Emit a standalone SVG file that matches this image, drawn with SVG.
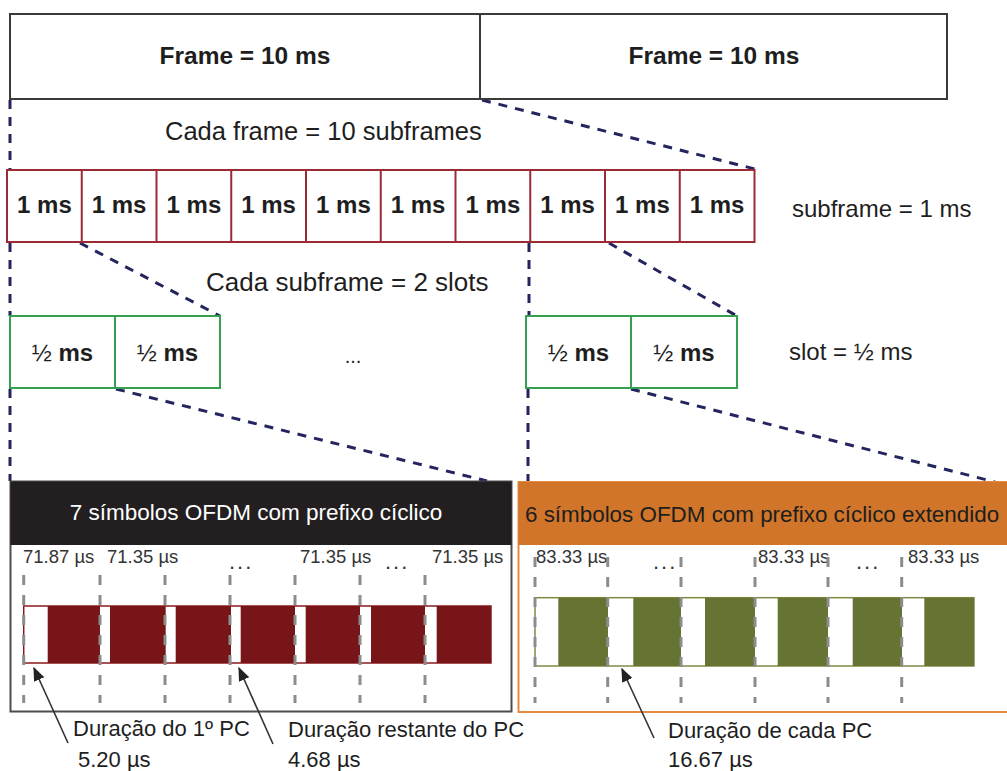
<svg xmlns="http://www.w3.org/2000/svg" width="1007" height="771" viewBox="0 0 1007 771">
<defs>
<style>
.t{font-family:"Liberation Sans",Arial,sans-serif;fill:#1e1e1e}
.b{font-weight:bold}
.frame{fill:#fff;stroke:#3a3a3a;stroke-width:2}
.sub{fill:#fff;stroke:#9b2a35;stroke-width:2}
.slot{fill:#fff;stroke:#35a052;stroke-width:2}
.conn{fill:none;stroke:#24245e;stroke-width:3;stroke-dasharray:9 8}
.grid{fill:none;stroke:#8c8c8c;stroke-width:3;stroke-dasharray:10 10}
.red{fill:#771518}
.grn{fill:#667433}
.dur{font-size:18.5px;fill:#333}
.dots{font-size:22px;fill:#333}
.lbl{font-size:22px}
</style>
<marker id="ah2" viewBox="0 0 10 10" refX="9" refY="5" markerWidth="14" markerHeight="14" markerUnits="userSpaceOnUse" orient="auto">
<path d="M0,1 L10,5 L0,9 z" fill="#222"/>
</marker>
</defs>
<rect width="1007" height="771" fill="#fff"/>

<g id="connectors">
<path class="conn" d="M10,100 V170"/>
<path class="conn" d="M482,100 L755,169"/>
<path class="conn" d="M10,243 V316"/>
<path class="conn" d="M80,243 L220,316"/>
<path class="conn" d="M529,243 V316"/>
<path class="conn" d="M609,243 L737,316"/>
<path class="conn" d="M10,389 V481"/>
<path class="conn" d="M116,389 L487,481"/>
<path class="conn" d="M528,389 V482"/>
<path class="conn" d="M631,389 L995,482"/>
</g>

<g id="frame1"><rect class="frame" x="10" y="14" width="470" height="85"/><text class="t b" x="245" y="64" font-size="24.5" text-anchor="middle">Frame = 10 ms</text></g>
<g id="frame2"><rect class="frame" x="480" y="14" width="467" height="85"/><text class="t b" x="714" y="64" font-size="24.5" text-anchor="middle">Frame = 10 ms</text></g>
<text class="t" x="165" y="140" font-size="25.5">Cada frame = 10 subframes</text>

<g id="subframes">
<rect class="sub" x="7" y="170" width="747.5" height="72"/>
<path class="sub" d="M81.75,170V242M156.5,170V242M231.25,170V242M306,170V242M380.75,170V242M455.5,170V242M530.25,170V242M605,170V242M679.75,170V242"/>
<g class="t b" font-size="24" text-anchor="middle">
<text x="44.4" y="213">1 ms</text><text x="119.1" y="213">1 ms</text><text x="193.9" y="213">1 ms</text><text x="268.6" y="213">1 ms</text><text x="343.4" y="213">1 ms</text><text x="418.1" y="213">1 ms</text><text x="492.9" y="213">1 ms</text><text x="567.6" y="213">1 ms</text><text x="642.4" y="213">1 ms</text><text x="717.1" y="213">1 ms</text>
</g>
</g>
<text class="t" x="792" y="217" font-size="24">subframe = 1 ms</text>
<text class="t" x="206" y="291" font-size="26">Cada subframe = 2 slots</text>

<g id="slots-left">
<rect class="slot" x="10" y="316" width="210" height="72"/>
<path class="slot" d="M115,316V388"/>
<text class="t" x="62.5" y="361" font-size="24" text-anchor="middle">½ <tspan class="b">ms</tspan></text>
<text class="t" x="167.5" y="361" font-size="24" text-anchor="middle">½ <tspan class="b">ms</tspan></text>
</g>
<text class="t" x="353" y="363" font-size="20" text-anchor="middle">...</text>
<g id="slots-right">
<rect class="slot" x="526" y="316" width="211" height="72"/>
<path class="slot" d="M631,316V388"/>
<text class="t" x="578.5" y="361" font-size="24" text-anchor="middle">½ <tspan class="b">ms</tspan></text>
<text class="t" x="684" y="361" font-size="24" text-anchor="middle">½ <tspan class="b">ms</tspan></text>
</g>
<text class="t" x="789" y="360" font-size="24">slot = ½ ms</text>

<g id="panel-normal">
<rect x="10.5" y="481.5" width="501" height="230" fill="#fff" stroke="#4d4d4d" stroke-width="2"/>
<rect x="10.5" y="481.5" width="501" height="63.5" fill="#231f20"/>
<text class="t" x="256" y="520" font-size="22.5" text-anchor="middle" style="fill:#fff">7 símbolos OFDM com prefixo cíclico</text>
<g class="t dur">
<text x="23" y="563">71.87 µs</text><text x="107" y="563">71.35 µs</text><text x="300" y="563">71.35 µs</text><text x="432" y="563">71.35 µs</text>
</g>
<g class="t dots">
<text x="229" y="569" letter-spacing="2">...</text><text x="385" y="569" letter-spacing="2">...</text>
</g>
<rect x="23.7" y="606" width="467.3" height="57" fill="#fff" stroke="#8b1a1e" stroke-width="1.5"/>
<rect class="red" x="47.7" y="606" width="52.3" height="57"/>
<rect class="red" x="110" y="606" width="55.7" height="57"/>
<rect class="red" x="175.7" y="606" width="55.3" height="57"/>
<rect class="red" x="240.7" y="606" width="54.3" height="57"/>
<rect class="red" x="305.7" y="606" width="54.3" height="57"/>
<rect class="red" x="371" y="606" width="54" height="57"/>
<rect class="red" x="436.7" y="606" width="54.3" height="57"/>
<path class="grid" d="M23.7,575V703M100,575V703M165,575V703M230,575V703M295,575V703M360,575V703M425,575V703"/>
</g>

<g id="panel-extended">
<rect x="518.5" y="482" width="500" height="230" fill="#fff" stroke="#e38b3f" stroke-width="2"/>
<rect x="518.5" y="482" width="500" height="63" fill="#d0752a"/>
<text class="t" x="525" y="522" font-size="22.4">6 símbolos OFDM com prefixo cíclico extendido</text>
<g class="t dur">
<text x="536" y="563">83.33 µs</text><text x="758" y="563">83.33 µs</text><text x="908" y="563">83.33 µs</text>
</g>
<g class="t dots">
<text x="653" y="569" letter-spacing="2">...</text><text x="856" y="569" letter-spacing="2">...</text>
</g>
<rect x="535" y="597.7" width="439" height="68.3" fill="#fff" stroke="#7d8c45" stroke-width="1.5"/>
<rect class="grn" x="558.3" y="597.7" width="49.7" height="68.3"/>
<rect class="grn" x="633.3" y="597.7" width="47.7" height="68.3"/>
<rect class="grn" x="705" y="597.7" width="50" height="68.3"/>
<rect class="grn" x="777.7" y="597.7" width="50.3" height="68.3"/>
<rect class="grn" x="852.7" y="597.7" width="49.3" height="68.3"/>
<rect class="grn" x="924.3" y="597.7" width="49.7" height="68.3"/>
<path class="grid" d="M535,557V703M607.7,557V703M681,557V703M755,557V703M828,557V703M901.7,557V703"/>
</g>

<g id="annotations">
<path d="M68,743 L34,668" stroke="#333" stroke-width="1.6" fill="none" marker-end="url(#ah2)"/>
<path d="M273,744 L239,668" stroke="#333" stroke-width="1.6" fill="none" marker-end="url(#ah2)"/>
<path d="M654,738 L622,669" stroke="#333" stroke-width="1.6" fill="none" marker-end="url(#ah2)"/>
<text class="t lbl" x="73" y="736">Duração do 1º PC</text>
<text class="t lbl" x="78" y="767">5.20 µs</text>
<text class="t lbl" x="288" y="737">Duração restante do PC</text>
<text class="t lbl" x="288" y="767">4.68 µs</text>
<text class="t lbl" x="668" y="738">Duração de cada PC</text>
<text class="t lbl" x="668" y="767">16.67 µs</text>
</g>
</svg>
